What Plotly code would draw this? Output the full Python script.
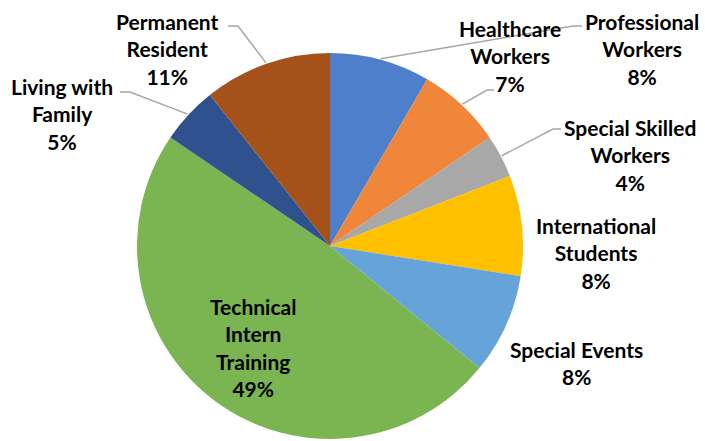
import math
import plotly.graph_objects as go

# ---- data ----
categories = ["Professional Workers", "Healthcare Workers", "Special Skilled Workers",
              "International Students", "Special Events", "Technical Intern Training",
              "Living with Family", "Permanent Resident"]
label_lines = [["Professional", "Workers"], ["Healthcare", "Workers"], ["Special Skilled", "Workers"],
               ["International", "Students"], ["Special Events"], ["Technical", "Intern", "Training"],
               ["Living with", "Family"], ["Permanent", "Resident"]]
shares = [8.4, 7.1, 3.6, 8.4, 8.4, 48.6, 4.8, 10.7]
colors = ["#4E7FCB", "#EF8639", "#A8A8A8", "#FFC000", "#66A3D9", "#7AB552", "#2F528F", "#A5521A"]

W, H = 705, 441
CX, CY, R = 330, 246, 193

total = sum(shares)
pcts = [round(v / total * 100) for v in shares]

fig = go.Figure(go.Pie(
    labels=categories, values=shares, sort=False, direction="clockwise", rotation=0,
    marker=dict(colors=colors, line=dict(width=0)), textinfo="none", hoverinfo="label+percent",
    showlegend=False,
    domain=dict(x=[(CX - R) / W, (CX + R) / W], y=[(H - (CY + R)) / H, (H - (CY - R)) / H]),
))

# label placement (pixel centers of label blocks)
label_pos = {
    "Professional Workers": (642, 49),
    "Healthcare Workers": (510, 56),
    "Special Skilled Workers": (630, 155),
    "International Students": (596, 253),
    "Special Events": (576, 363),
    "Technical Intern Training": (253, 347),
    "Living with Family": (62, 114),
    "Permanent Resident": (167, 49),
}
# leader line elbow/end points (pixels)
leaders = {
    "Professional Workers": [(573, 26), (582, 26)],
    "Healthcare Workers": [(487, 90), (494, 90)],
    "Special Skilled Workers": [(553, 129), (561, 129)],
    "Living with Family": [(130, 92), (120, 92)],
    "Permanent Resident": [(238, 26), (228, 26)],
}

def px(x):
    return x / W

def py(y):
    return 1 - y / H

annotations = []
shapes = []
cum = 0.0
for cat, lines, v, p in zip(categories, label_lines, shares, pcts):
    mid = (cum + v / 2) / total * 2 * math.pi
    cum += v
    text = "<br>".join(f"<b>{s}</b>" for s in lines + [f"{p}%"])
    x, y = label_pos[cat]
    annotations.append(dict(text=text, x=px(x), y=py(y), xref="paper", yref="paper",
                            xanchor="center", yanchor="middle", showarrow=False, align="center",
                            font=dict(family="Lato", size=21, color="#000000")))
    if cat in leaders:
        ex = CX + (R + 1) * math.sin(mid)
        ey = CY - (R + 1) * math.cos(mid)
        pts = [(ex, ey)] + leaders[cat]
        path = "M " + " L ".join(f"{px(a):.5f},{py(b):.5f}" for a, b in pts)
        shapes.append(dict(type="path", path=path, xref="paper", yref="paper",
                           line=dict(color="#A6A6A6", width=1.5)))

fig.update_layout(
    width=W, height=H, margin=dict(l=0, r=0, t=0, b=0),
    paper_bgcolor="white", plot_bgcolor="white",
    annotations=annotations, shapes=shapes,
    font=dict(family="Lato"),
)

fig.write_html("out.html", config={"displayModeBar": False},
               post_script="document.body.style.margin='0';document.documentElement.style.overflow='hidden';")
